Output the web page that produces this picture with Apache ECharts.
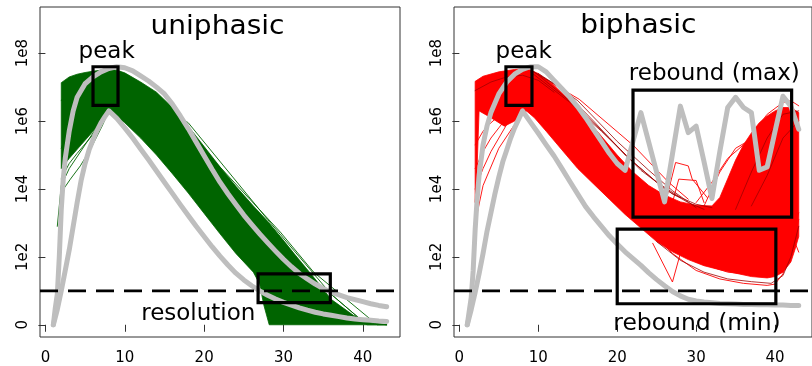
<!DOCTYPE html>
<html><head><meta charset="utf-8">
<script src="https://cdn.jsdelivr.net/npm/echarts@6/dist/echarts.min.js"></script>
<style>html,body{margin:0;padding:0;background:#fff}#c{width:812px;height:366px}</style>
</head><body><div id="c"></div>
<script>
// ---------- axis ranges / ticks ----------
const xMin = -0.68, xMax = 44.68, yMin = -0.36, yMax = 9.36;
const xTicks = [0, 10, 20, 30, 40];
const yTicks = [0, 2, 4, 6, 8];
const yTickLabels = ['0', '1e2', '1e4', '1e6', '1e8'];
const threshold = 1;

// ---------- gray reference curves [day, log10 value] ----------
const grayUniUpper = [[1,0],[1.25,0.5],[1.5,0.9],[1.75,2.0],[2,3.4],[2.25,4.3],[2.5,4.9],[3,5.7],[3.5,6.3],[4,6.7],[5,7.1],[6,7.3],[7,7.45],[8,7.55],[9,7.6],[10,7.57],[11,7.48],[12,7.33],[13,7.18],[14,7.0],[15,6.8],[16,6.5],[17,6.15],[18,5.78],[19,5.38],[20,4.98],[21,4.58],[22,4.2],[23,3.86],[24,3.54],[25,3.23],[26,2.95],[27,2.68],[28,2.42],[29,2.17],[30,1.93],[31,1.71],[32,1.51],[33,1.35],[34,1.2],[35,1.07],[36,0.96],[37,0.88],[38,0.8],[39,0.74],[40,0.68],[41,0.62],[42,0.57],[43,0.53]];
const grayUniLower = [[1,0],[1.5,0.45],[2,1.0],[2.5,1.6],[3,2.2],[3.5,2.9],[4,3.6],[4.5,4.25],[5,4.75],[5.5,5.15],[6,5.45],[6.5,5.72],[7,5.95],[7.5,6.13],[8,6.3],[9,6.08],[10,5.8],[11,5.5],[12,5.18],[13,4.86],[14,4.53],[15,4.2],[16,3.87],[17,3.54],[18,3.22],[19,2.9],[20,2.6],[21,2.3],[22,2.02],[23,1.76],[24,1.52],[25,1.32],[26,1.15],[27,1.0],[28,0.87],[29,0.76],[30,0.66],[31,0.58],[32,0.5],[33,0.43],[34,0.37],[35,0.32],[36,0.28],[37,0.24],[38,0.2],[39,0.17],[40,0.15],[41,0.13],[42,0.11],[43,0.1]];
const grayBiUpper = [[1,0],[1.25,0.4],[1.5,0.8],[1.75,1.6],[2,2.8],[2.25,3.7],[2.5,4.4],[3,5.3],[3.5,5.85],[4,6.25],[5,6.8],[6,7.15],[7,7.38],[8,7.52],[9,7.6],[10,7.6],[11,7.45],[12,7.2],[13,6.95],[14,6.7],[15,6.42],[16,6.1],[17,5.75],[18,5.4],[19,5.05],[20,4.75],[21,4.55],[22,5.4],[23,6.25],[24,5.37],[25,4.49],[26,3.62],[27,5.03],[28,6.44],[29,5.66],[30,5.85],[31,4.8],[32,3.72],[33,5.1],[34,6.4],[35,6.7],[36,6.4],[37,6.25],[38,4.55],[39,4.65],[40,5.7],[41,6.73],[42,6.44],[43,5.76]];
const grayBiLower = [[1,0],[1.5,0.45],[2,0.95],[2.5,1.5],[3,2.1],[3.5,2.75],[4,3.3],[4.5,3.85],[5,4.35],[5.5,4.8],[6,5.15],[6.5,5.5],[7,5.8],[7.5,6.05],[8,6.3],[9,5.97],[10,5.64],[11,5.3],[12,4.97],[13,4.6],[14,4.22],[15,3.85],[16,3.48],[17,3.18],[18,2.9],[19,2.62],[20,2.38],[21,2.15],[22,1.95],[23,1.75],[24,1.53],[25,1.33],[26,1.15],[27,0.98],[28,0.85],[29,0.75],[30,0.7],[31,0.67],[32,0.65],[33,0.63],[34,0.62],[35,0.61],[36,0.6],[37,0.6],[38,0.59],[39,0.59],[40,0.58],[41,0.58],[42,0.57],[43,0.57]];

// ---------- dense bundle envelopes (outline of the many trajectories) ----------
const uniBand = [[2,7.13],[3,7.3],[4,7.38],[5,7.43],[6,7.47],[7,7.5],[8,7.52],[9,7.5],[10,7.42],[12,7.15],[14,6.85],[16,6.4],[18,5.85],[20,5.25],[22,4.65],[24,4.08],[26.2,3.5],[28,3.05],[29.6,2.6],[31.5,2.05],[33.8,1.4],[36,0.75],[38.8,0.28],[41,0.05],[43,0],
  [28.2,0],[27.5,0.6],[27,1.2],[26.2,1.55],[24,2.1],[22,2.68],[20,3.28],[18,3.88],[16,4.45],[14,5.0],[12,5.5],[10,5.95],[8,6.3],[7.14,6.0],[6,5.7],[4.5,5.3],[3,4.9],[2,4.6]];
const biBand = [[2,7.17],[3,7.32],[5,7.45],[7,7.52],[8.5,7.55],[10,7.4],[12,7.05],[14,6.6],[16,6.1],[18,5.55],[20,5.0],[22,4.5],[24,4.1],[26,3.82],[28,3.62],[30,3.52],[32,3.5],[33,3.75],[34,4.3],[35,4.85],[36,5.3],[37,5.65],[38,5.95],[39,6.15],[40,6.3],[41,6.4],[42,6.4],[43,6.25],
  [43,2.6],[42.5,2.2],[42,1.85],[41,1.55],[40,1.42],[39,1.38],[37,1.42],[35,1.52],[33,1.62],[31,1.74],[29,1.92],[27,2.15],[25,2.45],[23,2.85],[21,3.25],[19,3.7],[17,4.15],[15,4.6],[13,5.15],[11,5.7],[9.5,6.1],[8.5,6.3],[7,6.0],[5.7,5.85],[4,6.1],[2.5,6.3],[2.3,5.0],[2.2,4.2],[2,3.6]];

// ---------- individual (outlying) trajectories ----------
const greenLines = [
  [[9.5,7.45],[20,5.15],[29.6,2.73],[33.8,1.55],[41.8,0],[43,0]],
  [[9,7.5],[20,5.1],[30,2.45],[34,1.3],[40.5,0],[43,0]],
  [[8,7.5],[18,5.95],[28,3.1],[36,0.9],[40,0.1],[43,0]],
  [[1.5,2.9],[2,4.1],[3,4.6],[5,5.3],[7,6.0],[8,6.4]],
  [[2,3.9],[3.15,4.29],[4.4,4.68],[5.67,5.17],[7.14,5.85],[8,6.3]],
  [[2,4.3],[3,4.75],[4,5.05],[6,5.6],[8,6.5]],
  [[2,6.6],[3,7.0],[5,7.3],[7,7.45]],
  [[2,5.2],[3,5.9],[5,6.6],[7,7.0],[8,7.2]]
];
const redLines = [
  [[1.8,2.3],[2,3.0],[3,4.1],[5,5.2],[7,5.9],[8.5,6.3]],
  [[2,4.0],[3,4.6],[4,5.1],[5,5.5],[6,5.9],[7,6.1],[8,6.3]],
  [[2,4.6],[3,5.1],[4,5.5],[5,5.8],[6,6.1],[7,6.4]],
  [[2,5.3],[3,5.7],[4,5.95],[5,6.15]],
  [[9.3,7.45],[15.2,6.64],[22.1,5.27],[26.5,4.2],[29,3.7]],
  [[24,2.8],[27,2.1],[30,1.6],[33,1.35],[36,1.22],[39,1.16],[40,1.2],[41,1.5],[42,2.2],[43,3.1]],
  [[22,3.2],[26,2.4],[30,1.85],[34,1.55],[38,1.45],[40,1.5],[41.5,2.0],[43,3.3]],
  [[24.5,2.4],[27,1.26],[28,2.1],[30,1.9]],
  [[41,3.3],[42,2.73],[43,2.14]],
  [[26,3.5],[27.4,4.78],[29,4.68],[29.5,4.29],[31.4,3.75]],
  [[27,3.6],[27.8,4.29],[30,4.25],[31,3.6]],
  [[30,3.6],[32,4.2],[34,4.9],[36,5.3],[38,5.6],[40,5.9],[42,6.0],[43,5.8]],
  [[33,3.5],[35,4.7],[37,5.6],[39,6.2],[41,6.55],[42,6.6],[43,6.45]],
  [[31,3.5],[33,4.5],[35,5.2],[36.5,5.4]]
];
const darkRedLines = [
  [[9,7.5],[12,7.1],[15,6.6],[20,5.4],[24,4.55],[27,3.95],[30,3.45]],
  [[9,7.45],[14,6.55],[18,5.7],[22,4.8],[26,4.0],[29,3.6],[31,3.4]],
  [[10,7.4],[13,6.95],[17,6.0],[21,5.0],[25,4.2],[28,3.75]],
  [[9.5,7.45],[15,6.4],[19,5.5],[23,4.55],[27,3.85],[30,3.55],[32,3.45]],
  [[2,6.9],[4,7.15],[6,7.3],[8,7.35],[10,7.2],[12,6.85]],
  [[25,2.45],[28,1.9],[31,1.55],[34,1.35],[37,1.27],[39.5,1.22],[41,1.45],[42,2.0],[43,2.9]],
  [[35,3.4],[37,4.5],[39,5.5],[41,6.2],[43,6.3]],
  [[37,3.5],[39,4.4],[41,5.5],[43,6.0]]
];

// ---------- annotation boxes [x1, x2, y1, y2] ----------
const uniBoxes = [[6.0, 9.15, 6.46, 7.6], [26.8, 35.9, 0.65, 1.5]];
const biBoxes = [[5.9, 9.2, 6.46, 7.6], [22.0, 42.1, 3.17, 6.91], [20.0, 40.1, 0.62, 2.82]];

// ---------- texts ----------
const titles = ['uniphasic', 'biphasic'];
const notes = ['peak', 'resolution', 'peak', 'rebound (max)', 'rebound (min)'];

const FONT = '"DejaVu Sans", sans-serif';
const chart = echarts.init(document.getElementById('c'), null, {renderer: 'canvas'});

function axisPair(i) {
  return {
    x: {type: 'value', gridIndex: i, min: xMin, max: xMax, splitLine: {show: false},
        axisLine: {show: false},
        axisTick: {show: true, length: 7, lineStyle: {color: '#333'}, customValues: xTicks},
        axisLabel: {customValues: xTicks, fontSize: 15, fontFamily: FONT, color: '#000', margin: 14}},
    y: {type: 'value', gridIndex: i, min: yMin, max: yMax, splitLine: {show: false},
        axisLine: {show: false},
        axisTick: {show: true, length: 7, lineStyle: {color: '#333'}, customValues: yTicks},
        axisLabel: {customValues: yTicks, rotate: 90, fontSize: 15, fontFamily: FONT, color: '#000', margin: 9,
                    formatter: v => yTickLabels[yTicks.indexOf(Math.round(v))]}}
  };
}
const a0 = axisPair(0), a1 = axisPair(1);

function polySeries(i, poly, color) {
  return {type: 'custom', xAxisIndex: i, yAxisIndex: i, z: 1, clip: true, silent: true,
    data: [[0]],
    renderItem: (p, api) => ({type: 'polygon',
      shape: {points: poly.map(pt => api.coord(pt))},
      style: {fill: color, stroke: color, lineWidth: 0.8}})};
}
function lineSeries(i, data, color, width, z, extra) {
  return Object.assign({type: 'line', xAxisIndex: i, yAxisIndex: i, data: data, z: z,
    symbol: 'none', silent: true, clip: true, animation: false,
    lineStyle: {color: color, width: width, cap: 'round', join: 'round'}}, extra || {});
}
function boxSeries(i, boxes) {
  return {type: 'custom', xAxisIndex: i, yAxisIndex: i, z: 6, clip: true, silent: true,
    data: boxes,
    renderItem: (p, api) => {
      const a = api.coord([api.value(0), api.value(3)]);
      const b = api.coord([api.value(1), api.value(2)]);
      return {type: 'rect', shape: {x: a[0], y: a[1], width: b[0] - a[0], height: b[1] - a[1]},
        style: {fill: 'none', stroke: '#000', lineWidth: 3.2}};
    }};
}
function dashSeries(i) {
  return lineSeries(i, [[xMin, threshold], [xMax, threshold]], '#000', 2.6, 5,
    {lineStyle: {color: '#000', width: 2.6, type: [18, 10], cap: 'butt'}});
}

const series = [];
series.push(polySeries(0, uniBand, '#006400'));
greenLines.forEach(l => series.push(lineSeries(0, l, '#006400', 0.9, 2)));
series.push(lineSeries(0, grayUniUpper, '#bebebe', 5, 4));
series.push(lineSeries(0, grayUniLower, '#bebebe', 5, 4));
series.push(dashSeries(0));
series.push(boxSeries(0, uniBoxes));

series.push(polySeries(1, biBand, '#ff0000'));
redLines.forEach(l => series.push(lineSeries(1, l, '#ff0000', 0.9, 2)));
darkRedLines.forEach(l => series.push(lineSeries(1, l, '#a00000', 0.8, 3)));
series.push(lineSeries(1, grayBiUpper, '#bebebe', 5, 4));
series.push(lineSeries(1, grayBiLower, '#bebebe', 5, 4));
series.push(dashSeries(1));
series.push(boxSeries(1, biBoxes));

function txt(text, x, y, size, sx) {
  return {type: 'text', x: x, y: y, scaleX: sx, z: 100, silent: true,
    style: {text: text, font: size + 'px ' + FONT, fill: '#000', align: 'center', verticalAlign: 'middle'}};
}

chart.setOption({
  animation: false,
  backgroundColor: '#fff',
  grid: [
    {left: 40, top: 7, width: 360, height: 331, show: true, borderColor: '#333', borderWidth: 1, backgroundColor: 'transparent'},
    {left: 454, top: 7, width: 360, height: 331, show: true, borderColor: '#333', borderWidth: 1, backgroundColor: 'transparent'}
  ],
  xAxis: [a0.x, a1.x],
  yAxis: [a0.y, a1.y],
  series: series,
  graphic: [
    txt(titles[0], 217.5, 26.5, 27, 1.04),
    txt(titles[1], 638.3, 25.5, 27, 1.04),
    txt(notes[0], 106.7, 52.5, 23, 1.0),
    txt(notes[1], 198.3, 314.3, 23, 1.0),
    txt(notes[2], 523.7, 52.5, 23, 1.0),
    txt(notes[3], 714.3, 74.3, 23, 1.0),
    txt(notes[4], 697, 324.3, 23, 1.02)
  ]
});
</script></body></html>
